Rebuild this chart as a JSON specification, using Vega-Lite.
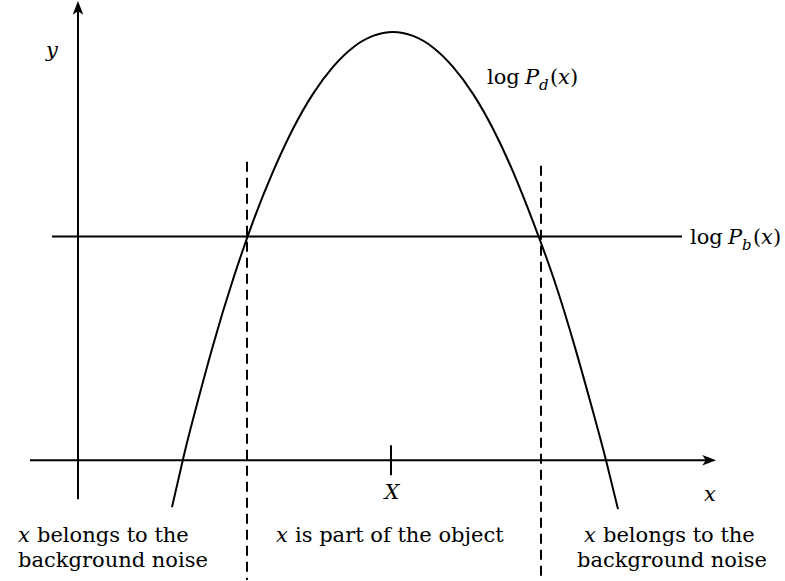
{
  "$schema": "https://vega.github.io/schema/vega-lite/v6.json",
  "width": 785,
  "height": 581,
  "autosize": {"type": "fit", "contains": "padding"},
  "padding": 0,
  "background": "white",
  "config": {"view": {"stroke": null}},
  "datasets": {
    "curve": [
      {"x": 172, "y": 508}, {"x": 183, "y": 460}, {"x": 193, "y": 420}, {"x": 213, "y": 346},
      {"x": 233, "y": 280}, {"x": 253, "y": 222}, {"x": 273, "y": 172}, {"x": 293, "y": 129},
      {"x": 313, "y": 94}, {"x": 333, "y": 67}, {"x": 353, "y": 47.5}, {"x": 373, "y": 36},
      {"x": 393, "y": 32},
      {"x": 413, "y": 36}, {"x": 433, "y": 47.5}, {"x": 453, "y": 67}, {"x": 473, "y": 94},
      {"x": 493, "y": 129}, {"x": 513, "y": 172}, {"x": 533, "y": 222}, {"x": 554, "y": 280},
      {"x": 575, "y": 348}, {"x": 594, "y": 416}, {"x": 606, "y": 461}, {"x": 618, "y": 510}
    ],
    "solid": [
      {"name": "y axis", "x": 78, "y": 500, "x2": 78, "y2": 8},
      {"name": "x axis", "x": 30, "y": 461, "x2": 709, "y2": 461},
      {"name": "X tick", "x": 391, "y": 446, "x2": 391, "y2": 476},
      {"name": "log Pb", "x": 52, "y": 237, "x2": 682, "y2": 237}
    ],
    "dashed": [
      {"name": "left threshold", "x": 247, "y": 162, "x2": 247, "y2": 581},
      {"name": "right threshold", "x": 541, "y": 166, "x2": 541, "y2": 581}
    ],
    "arrowUp": [{"x": 78, "y": 8}],
    "arrowRight": [{"x": 709, "y": 461}],
    "italicCentered": [
      {"t": "y", "x": 52, "y": 57},
      {"t": "X", "x": 392, "y": 500},
      {"t": "x", "x": 710, "y": 502},
      {"t": "x", "x": 24, "y": 543},
      {"t": "x", "x": 282, "y": 543},
      {"t": "x", "x": 590, "y": 543}
    ],
    "italicLeft": [
      {"t": "P", "x": 525, "y": 84},
      {"t": "x", "x": 558, "y": 84},
      {"t": "P", "x": 728, "y": 244},
      {"t": "x", "x": 761, "y": 244}
    ],
    "sub": [
      {"t": "d", "x": 539, "y": 90},
      {"t": "b", "x": 742, "y": 250}
    ],
    "regularLeft": [
      {"t": "log", "x": 487, "y": 84},
      {"t": "(", "x": 550, "y": 84},
      {"t": ")", "x": 570, "y": 84},
      {"t": "log", "x": 690, "y": 244},
      {"t": "(", "x": 753, "y": 244},
      {"t": ")", "x": 773, "y": 244},
      {"t": "belongs to the", "x": 37, "y": 543},
      {"t": "is part of the object", "x": 295, "y": 543},
      {"t": "belongs to the", "x": 603, "y": 543}
    ],
    "regularCentered": [
      {"t": "background noise", "x": 113, "y": 568},
      {"t": "background noise", "x": 672, "y": 568}
    ]
  },
  "encoding": {
    "x": {"field": "x", "type": "quantitative", "scale": {"domain": [0, 785], "nice": false, "zero": false}, "axis": null},
    "y": {"field": "y", "type": "quantitative", "scale": {"domain": [0, 581], "nice": false, "zero": false, "reverse": true}, "axis": null}
  },
  "layer": [
    {
      "data": {"name": "solid"},
      "mark": {"type": "rule", "color": "black", "strokeWidth": 2},
      "encoding": {"x2": {"field": "x2"}, "y2": {"field": "y2"}}
    },
    {
      "data": {"name": "dashed"},
      "mark": {"type": "rule", "color": "black", "strokeWidth": 2, "strokeDash": [10, 6]},
      "encoding": {"x2": {"field": "x2"}, "y2": {"field": "y2"}}
    },
    {
      "data": {"name": "curve"},
      "mark": {"type": "line", "color": "black", "strokeWidth": 2, "interpolate": "natural"},
      "encoding": {}
    },
    {
      "data": {"name": "arrowUp"},
      "mark": {"type": "point", "filled": true, "color": "black", "opacity": 1, "size": 200,
        "shape": "M0,-1L0.75,0.95L0,0.45L-0.75,0.95Z"}
    },
    {
      "data": {"name": "arrowRight"},
      "mark": {"type": "point", "filled": true, "color": "black", "opacity": 1, "size": 200,
        "shape": "M1,0L-0.95,0.75L-0.45,0L-0.95,-0.75Z"}
    },
    {
      "data": {"name": "italicCentered"},
      "mark": {"type": "text", "font": "DejaVu Serif", "fontStyle": "italic", "fontSize": 21, "align": "center", "baseline": "alphabetic", "color": "black"},
      "encoding": {"text": {"field": "t"}}
    },
    {
      "data": {"name": "italicLeft"},
      "mark": {"type": "text", "font": "DejaVu Serif", "fontStyle": "italic", "fontSize": 21, "align": "left", "baseline": "alphabetic", "color": "black"},
      "encoding": {"text": {"field": "t"}}
    },
    {
      "data": {"name": "sub"},
      "mark": {"type": "text", "font": "DejaVu Serif", "fontStyle": "italic", "fontSize": 15, "align": "left", "baseline": "alphabetic", "color": "black"},
      "encoding": {"text": {"field": "t"}}
    },
    {
      "data": {"name": "regularLeft"},
      "mark": {"type": "text", "font": "DejaVu Serif", "fontSize": 21, "align": "left", "baseline": "alphabetic", "color": "black"},
      "encoding": {"text": {"field": "t"}}
    },
    {
      "data": {"name": "regularCentered"},
      "mark": {"type": "text", "font": "DejaVu Serif", "fontSize": 21, "align": "center", "baseline": "alphabetic", "color": "black"},
      "encoding": {"text": {"field": "t"}}
    }
  ]
}
